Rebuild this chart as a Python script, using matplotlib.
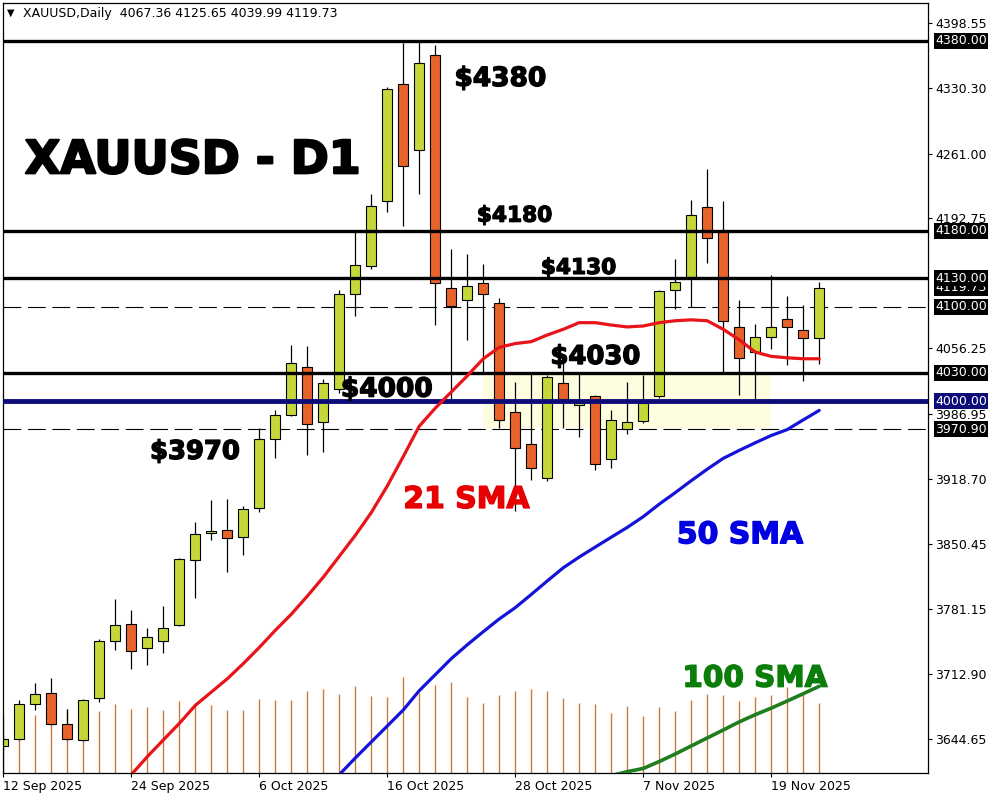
import numpy as np
import matplotlib
matplotlib.use("Agg")
import matplotlib.pyplot as plt
import matplotlib.transforms as mtransforms
import matplotlib.patheffects as pe

# ---------------- data ----------------
opens = [3637, 3645, 3681, 3693, 3660, 3644, 3688, 3748, 3766, 3740,
         3748, 3765, 3833, 3861, 3865, 3857, 3888, 3961, 3986, 4036,
         3978, 4013, 4113, 4143, 4211, 4334, 4265, 4365, 4119, 4107,
         4125, 4104, 3989, 3955, 3919, 4019, 3996.5, 4005.8, 3939, 3971,
         3979, 4006, 4117, 4131, 4205, 4180, 4078, 4052, 4068, 4087,
         4075, 4067.36]
highs = [3648, 3686, 3704, 3709, 3676, 3687, 3750, 3792, 3780, 3762,
         3785, 3835, 3873, 3896, 3897, 3890, 3972, 3991, 4059, 4058,
         4024, 4117, 4179, 4218, 4331, 4377, 4381, 4375, 4161, 4155,
         4145, 4109, 4021, 4030, 4028, 4042, 4030, 4007, 3991, 4021,
         4028, 4117, 4150, 4212, 4245, 4211, 4107, 4082, 4133, 4111,
         4102, 4125.65]
lows = [3633, 3644, 3675, 3659, 3644, 3643, 3684, 3738, 3718, 3723,
        3735, 3764, 3793, 3854, 3820, 3838, 3884, 3940, 3985, 3944,
        3947, 4009, 4090, 4140, 4199, 4185, 4219, 4081, 4002, 4065,
        4030, 3972, 3885, 3917, 3916, 3972, 3963, 3928, 3930, 3966,
        3977, 4004, 4097, 4100, 4146, 4031, 4007, 4003, 4055, 4038,
        4022, 4039.99]
closes = [3645, 3681, 3692, 3660, 3645, 3686, 3748, 3765, 3737, 3752,
          3762, 3834, 3860, 3864, 3856, 3887, 3961, 3986, 4041, 3976,
          4019, 4113, 4144, 4206, 4329, 4248, 4356, 4125, 4100.6, 4122,
          4113, 3981, 3951, 3930, 4026, 4003, 3998, 3934, 3980, 3978,
          3998, 4116, 4126, 4196, 4172, 4085, 4046, 4068, 4078, 4078,
          4067, 4119.73]
volumes = [168, 165, 174, 192, 192, 189, 186, 207, 192, 198,
           189, 216, 210, 204, 189, 189, 222, 219, 219, 246,
           252, 237, 261, 231, 228, 288, 240, 264, 273, 228,
           210, 234, 246, 252, 246, 225, 210, 207, 180, 201,
           171, 198, 186, 219, 237, 234, 216, 228, 234, 258,
           243, 210]
nan = np.nan
sma21 = [nan] * 8 + [3607, 3626, 3643.6, 3661, 3680, 3694, 3708, 3724, 3741, 3759,
                     3776, 3795, 3815, 3837, 3859, 3883, 3911, 3942, 3974, 3993,
                     4010, 4027, 4045, 4057, 4061, 4063, 4070, 4076, 4083, 4083,
                     4080.5, 4078.5, 4079.5, 4083, 4085, 4086, 4085, 4076, 4065, 4052,
                     4047.5, 4046, 4045, 4045]
sma50 = [nan] * 21 + [3607, 3624.6, 3641.5, 3658.3, 3675.2, 3695.5, 3712.3, 3729.2, 3743.8, 3757.6,
                      3771.0, 3782.9, 3796.8, 3811.0, 3824.9, 3836.2, 3846.7, 3857.1, 3867.4, 3878.7,
                      3891.9, 3904.0, 3916.6, 3928.7, 3940.1, 3948.5, 3956.5, 3964.2, 3970.4, 3980.6,
                      3990.6]
sma100 = [nan] * 38 + [3606, 3610.2, 3613.6, 3620.9, 3628.8, 3637.3, 3645.7, 3654.1, 3662.6, 3670.2,
                       3677.1, 3684.6, 3692.3, 3700.1]

date_tick_pos = [0, 8, 16, 24, 32, 40, 48]
date_tick_labels = ["12 Sep 2025", "24 Sep 2025", "6 Oct 2025", "16 Oct 2025",
                    "28 Oct 2025", "7 Nov 2025", "19 Nov 2025"]
price_ticks = [4398.55, 4330.30, 4261.00, 4192.75, 4056.25, 3986.95,
               3918.70, 3850.45, 3781.15, 3712.90, 3644.65]
solid_levels = [4380.00, 4180.00, 4130.00, 4030.00]
support_level = 4000.00
dashed_levels = [4100.00, 3970.90]
last_price = 4119.73
zone_low, zone_high = 3972.0, 4030.0
zone_first_bar, zone_last_bar = 30, 48
header = "XAUUSD,Daily  4067.36 4125.65 4039.99 4119.73"

# ---------------- styling ----------------
BULL = "#C4D83C"
BEAR = "#E8632B"
VOLC = "#CC7A3C"
NAVY = "#0C0C78"

fig = plt.figure(figsize=(10, 8), dpi=100, facecolor="white")
rect = [3 / 1000, 27 / 800, 925 / 1000, 770 / 800]
ax_v = fig.add_axes(rect, zorder=0)
ax = fig.add_axes(rect, zorder=1)
ax.patch.set_visible(False)

n = len(closes)
xs = np.arange(n)
XLIM = (-0.02, 57.8)
YLIM = (3608.8, 4419.6)

# volume
ax_v.vlines(xs, 0, volumes, color=VOLC, lw=1.0)
ax_v.set_xlim(*XLIM)
ax_v.set_ylim(0, 2310)
ax_v.axis("off")

ax.set_xlim(*XLIM)
ax.set_ylim(*YLIM)

# yellow zone
ax.add_patch(plt.Rectangle((zone_first_bar, zone_low), zone_last_bar - zone_first_bar,
                           zone_high - zone_low, facecolor="#FFFDDF", edgecolor="none", zorder=0.5))

# dashed levels
for lv in dashed_levels:
    ax.axhline(lv, color="black", lw=0.8, ls=(0, (16, 6)), zorder=1)

# candles
o = np.array(opens); c = np.array(closes); h = np.array(highs); l = np.array(lows)
ax.vlines(xs, l, h, color="black", lw=0.9, zorder=2)
bottoms = np.minimum(o, c)
heights = np.maximum(np.abs(c - o), 0.8)
cols = [BULL if cc >= oo else BEAR for oo, cc in zip(o, c)]
ax.bar(xs, heights, bottom=bottoms, width=0.62, color=cols, edgecolor="black",
       linewidth=0.8, zorder=2.2)

# solid levels
for lv in solid_levels:
    ax.axhline(lv, color="black", lw=2.4, zorder=3)
ax.axhline(support_level, color=NAVY, lw=3.5, zorder=3)

# SMAs
ax.plot(xs, sma21, color="#E8141A", lw=2.3, zorder=3.5, solid_capstyle="round")
ax.plot(xs, sma50, color="#1414D8", lw=2.3, zorder=3.5, solid_capstyle="round")
ax.plot(xs, sma100, color="#1E7D1E", lw=2.6, zorder=3.5, solid_capstyle="round")

# axes cosmetics
for s in ax.spines.values():
    s.set_color("black"); s.set_linewidth(0.9)
ax.yaxis.tick_right()
ax.set_yticks(price_ticks)
ax.set_yticklabels([f"{v:.2f}" for v in price_ticks])
ax.tick_params(axis="y", right=True, left=False, direction="out", length=3, width=0.8,
               labelsize=9, pad=2, labelcolor="black")
ax.set_xticks(date_tick_pos)
ax.set_xticklabels(date_tick_labels, ha="left")
ax.tick_params(axis="x", direction="out", length=3, width=0.8, labelsize=9, pad=2)

# boxed price labels on right axis
btr = mtransforms.blended_transform_factory(ax.transAxes, ax.transData)
def box_label(val, fc):
    ax.text(1.0076, val, f"{val:.2f}", transform=btr, ha="left", va="center",
            fontsize=9, color="white", clip_on=False, zorder=6,
            bbox=dict(boxstyle="square,pad=0.12", fc=fc, ec="none"))

box_label(last_price, "black")
for lv in solid_levels + dashed_levels:
    box_label(lv, "black")
box_label(support_level, NAVY)

# annotations
def heavy(x, y, s, size, color, stroke):
    ax.text(x, y, s, fontsize=size, color=color, fontweight="bold", family="DejaVu Sans",
            zorder=5, va="baseline", ha="left",
            path_effects=[pe.withStroke(linewidth=stroke, foreground=color)])

heavy(1.35, 4240.3, "XAUUSD - D1", 33, "black", 1.6)
heavy(28.2, 4332.2, "$4380", 19, "black", 1.0)
heavy(29.6, 4189.3, "$4180", 15.6, "black", 0.9)
heavy(33.6, 4134.3, "$4130", 15.6, "black", 0.9)
heavy(34.2, 4039.5, "$4030", 18.6, "black", 1.0)
heavy(21.1, 4005.1, "$4000", 19, "black", 1.0)
heavy(9.17, 3939.5, "$3970", 18.6, "black", 1.0)
heavy(25.0, 3887.9, "21 SMA", 21.5, "#E60000", 1.0)
heavy(42.1, 3850.7, "50 SMA", 21.5, "#0000E0", 1.0)
heavy(42.45, 3699.7, "100 SMA", 21.2, "#0A7D0A", 1.0)

# header
fig.text(0.007, 1 - 13 / 800, "\u25BC", fontsize=7, va="center", ha="left", color="black")
fig.text(0.023, 1 - 13 / 800, header, fontsize=9, va="center", ha="left", color="black")

fig.savefig("out.png", dpi=100, facecolor="white")
